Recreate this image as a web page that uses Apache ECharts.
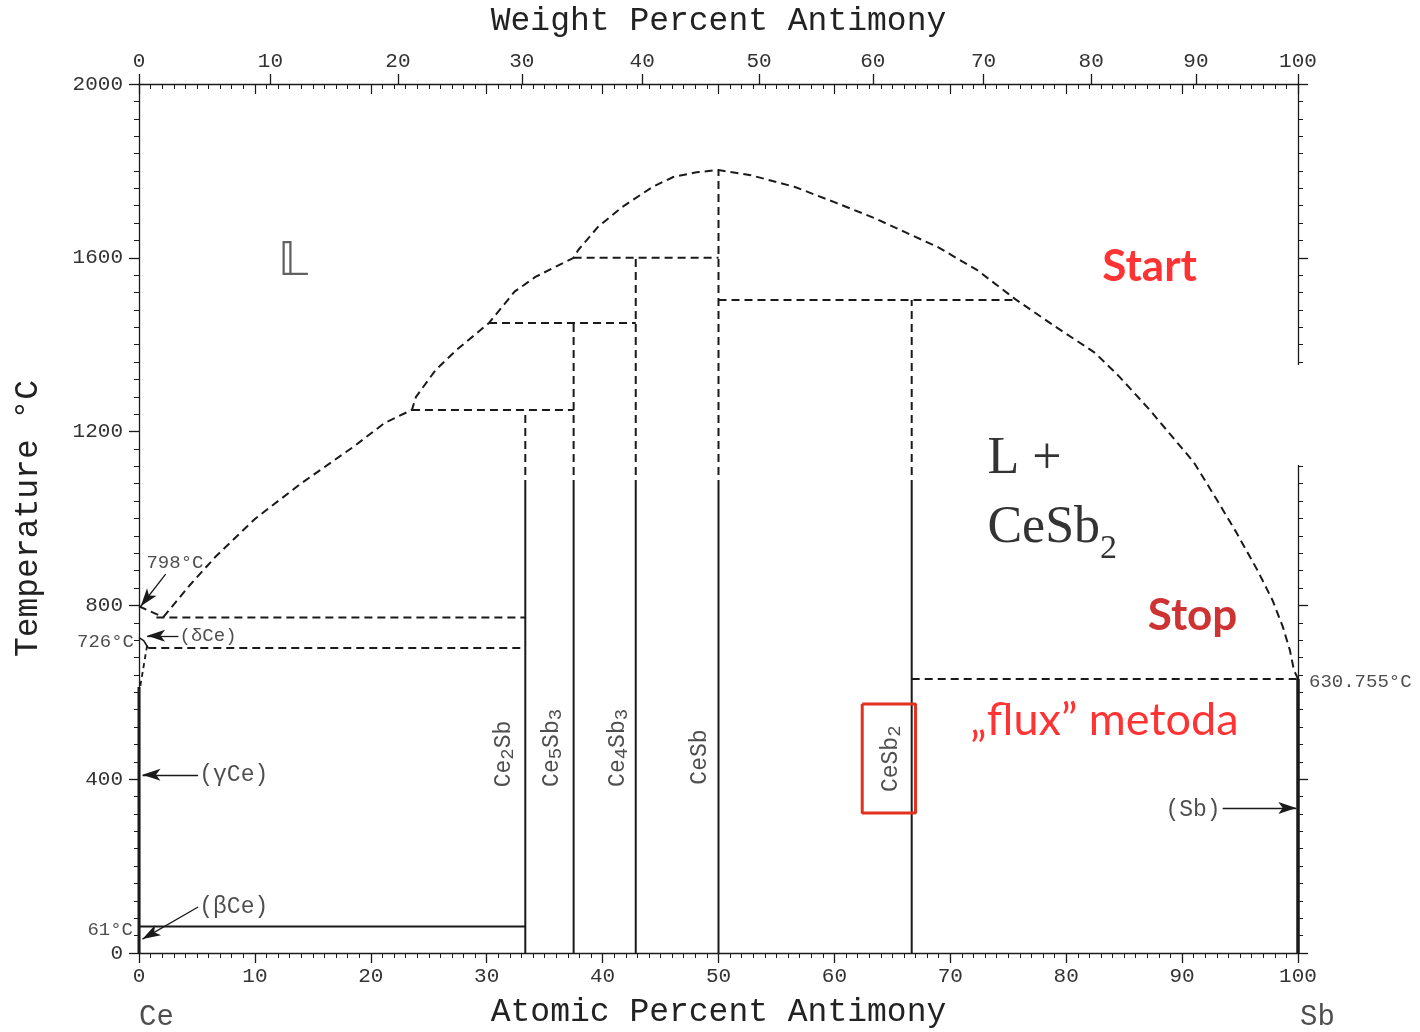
<!DOCTYPE html>
<html>
<head>
<meta charset="utf-8">
<script src="https://cdn.jsdelivr.net/npm/echarts@6/dist/echarts.min.js"></script>
<style>
  html, body { margin: 0; padding: 0; background: #fff; }
  #chart { width: 1420px; height: 1032px; }
</style>
</head>
<body>
<div id="chart"></div>
<script>
// Ce–Sb binary phase diagram (temperature vs. composition)

// ---- axis data ----
const weightTickLabels = [0, 10, 20, 30, 40, 50, 60, 70, 80, 90, 100];
const temperatureTicks = [0, 400, 800, 1200, 1600, 2000];
const MASS_CE = 140.116;
const MASS_SB = 121.76;

// ---- phase boundaries: [atomic % Sb, °C] ----
const liquidus = [
  [2.1, 773], [4.4, 847], [6.6, 912], [10, 999], [13.9, 1079], [18.5, 1165],
  [21.2, 1220], [23.55, 1250], [23.9, 1280], [25.6, 1342], [27.4, 1388],
  [30.2, 1450], [32.4, 1522], [34.2, 1556], [37.5, 1600], [37.9, 1618],
  [39.6, 1671], [41.7, 1717], [44.3, 1763], [46.1, 1786], [48.1, 1797],
  [50, 1802], [52.8, 1790], [56.6, 1763], [60, 1728], [63.4, 1692],
  [66.1, 1659], [68.9, 1625], [72.3, 1572], [75.7, 1503], [79.1, 1441],
  [82.5, 1381], [84.6, 1326], [87.2, 1250], [89.6, 1174], [91, 1130],
  [93, 1043], [94.7, 967], [96.5, 881], [97.8, 812], [98.7, 750],
  [99.3, 697], [99.65, 651], [100, 630.755]
];
const ceLiquidusStart = [[0, 798], [1.0, 786], [2.1, 773]];
const deltaGammaHook = [[0, 726], [0.4, 719], [0.8, 702]];
const gammaSolvus = [[0.7, 708], [0.4, 660], [0.1, 612]];

const isothermSegments = [
  [[1.5, 772], [33.33, 772]],
  [[0.8, 702], [33.33, 702]],
  [[23.55, 1250], [37.5, 1250]],
  [[30.2, 1450], [42.86, 1450]],
  [[37.5, 1600], [50, 1600]],
  [[50, 1503], [75.7, 1503]],
  [[66.67, 630.755], [100, 630.755]]
];
const betaCeLine = [[0, 61], [33.33, 61]];
const pureCe = [[0, 0], [0, 612]];
const pureSb = [[100, 0], [100, 630.755]];

// ---- intermediate compounds ----
const compoundNames = ['Ce2Sb', 'Ce5Sb3', 'Ce4Sb3', 'CeSb', 'CeSb2'];
const compoundAtomic = [33.33, 37.5, 42.86, 50, 66.67];
const compoundTopTemp = [1250, 1450, 1600, 1802, 1503];
const solidUpTo = 1070;

// frame drawn around the CeSb2 label
const highlightBox = [[62.4, 573], [67.0, 573], [67.0, 322], [62.4, 322], [62.4, 573]];

// ---- helpers ----
function weightToAtomic(w) {
  const nSb = w / MASS_SB, nCe = (100 - w) / MASS_CE;
  return 100 * nSb / (nSb + nCe);
}
// keep the last tick just inside the extent so its label is not dropped
const weightTickPositions = weightTickLabels.map(function (w) {
  return Math.min(weightToAtomic(w), 99.999);
});

const INK = '#1a1a1a';
const MONO = 'Liberation Mono';

function segment(data, style, z) {
  return {
    type: 'line', data: data, symbol: 'none', silent: true, animation: false,
    clip: false, z: z || 3,
    lineStyle: Object.assign({ color: INK, width: 2, type: 'solid' }, style || {})
  };
}
const dashStyle = { type: [8, 5], width: 2 };

function subRich(main, sub, drop, color, family) {
  return {
    a: { fontSize: main, fontFamily: family, color: color, lineHeight: main + 2, verticalAlign: 'top' },
    b: { fontSize: sub, fontFamily: family, color: color, lineHeight: sub, verticalAlign: 'top', padding: [drop, 0, 0, 0] }
  };
}
function formulaText(name) {
  // Ce5Sb3 -> {a|Ce}{b|5}{a|Sb}{b|3}
  return name.replace(/([A-Za-z]+)|(\d+)/g, function (m, letters, digits) {
    return letters ? '{a|' + letters + '}' : '{b|' + digits + '}';
  });
}

const series = [];

// liquidus and the dashed boundaries
series.push(segment(liquidus, dashStyle));
series.push(segment(ceLiquidusStart, dashStyle));
series.push(segment(deltaGammaHook, { width: 1.6 }));
series.push(segment(gammaSolvus, { type: [5, 4], width: 1.8 }));
isothermSegments.forEach(function (s) { series.push(segment(s, dashStyle)); });

// compounds: solid line-compound below, dashed continuation above
compoundAtomic.forEach(function (x, i) {
  series.push(segment([[x, 0], [x, solidUpTo]], { width: 2 }));
  series.push(segment([[x, solidUpTo], [x, compoundTopTemp[i]]], dashStyle));
});
series.push(segment(betaCeLine, { width: 2.2 }));
series.push(segment(pureCe, { width: 3 }));
series.push(segment(pureSb, { width: 3.5 }));
series.push(segment(highlightBox, { color: '#e2321f', width: 3 }, 6));

// arrows
function arrow(from, to) {
  return [{ coord: from, symbol: 'none' }, { coord: to, symbol: 'arrow', symbolSize: [9, 18] }];
}
series.push({
  type: 'line', data: [], symbol: 'none', silent: true, animation: false,
  markLine: {
    silent: true, animation: false, symbol: ['none', 'arrow'],
    label: { show: false },
    lineStyle: { color: INK, width: 1.3, type: 'solid' },
    emphasis: { disabled: true },
    data: [
      arrow([2.3, 872], [0.15, 798]),
      arrow([3.4, 730], [0.7, 730]),
      arrow([5.1, 410], [0.3, 410]),
      arrow([5.1, 106], [0.3, 32]),
      arrow([93.5, 334], [99.85, 334])
    ]
  }
});

// text annotations
function note(x, y, text, label) {
  return { value: [x, y], label: Object.assign({ show: true, formatter: text, color: '#222', fontFamily: MONO }, label) };
}
const notes = [
  note(3.1, 898, '798°C', { position: 'inside', fontSize: 19 }),
  note(3.5, 730, '(δCe)', { position: 'right', distance: 0, fontSize: 19 }),
  note(0, 716, '726°C', { position: 'left', distance: 5, fontSize: 19 }),
  note(5.2, 410, '(γCe)', { position: 'right', distance: 0, fontSize: 23 }),
  note(5.2, 106, '(βCe)', { position: 'right', distance: 0, fontSize: 23 }),
  note(0, 53, '61°C', { position: 'left', distance: 6, fontSize: 19 }),
  note(93.5, 329, '(Sb)', { position: 'left', distance: 2, fontSize: 23 }),
  note(100, 624, '630.755°C', { position: 'right', distance: 11, fontSize: 19 }),
  note(13.3, 1588, '𝕃', { position: 'inside', fontSize: 46, fontFamily: 'DejaVu Sans', color: '#3a3a3a' }),
  note(73.2, 1135, 'L +', { position: 'right', distance: 0, fontSize: 52, fontFamily: 'Liberation Serif', color: '#000' }),
  note(73.2, 975, '{a|CeSb}{b|2}', { position: 'right', distance: 0, rich: subRich(52, 34, 30, '#000', 'Liberation Serif') }),
  note(87.2, 1579, 'Start', { position: 'inside', fontSize: 44, fontWeight: 'bold', fontFamily: 'Lato', color: '#ff0000' }),
  note(90.9, 776, 'Stop', { position: 'inside', fontSize: 44, fontWeight: 'bold', fontFamily: 'Lato', color: '#c00000' }),
  note(83.3, 536, '„flux” metoda', { position: 'inside', fontSize: 45, fontFamily: 'Lato', color: '#ff0000' }),
  note(0, 0, 'Ce', { position: [0, 64], align: 'left', verticalAlign: 'middle', fontSize: 29 }),
  note(100, 0, 'Sb', { position: [2, 64], align: 'left', verticalAlign: 'middle', fontSize: 29 })
];
const compoundLabelX = [31.6, 35.7, 41.4, 48.5, 65.0];
const compoundLabelT = [458, 472, 472, 451, 447];
compoundNames.forEach(function (name, i) {
  notes.push(note(compoundLabelX[i], compoundLabelT[i], formulaText(name), {
    position: 'inside', rotate: 90, rich: subRich(23, 19, 6, '#222', MONO)
  }));
});
series.push({
  type: 'scatter', data: notes, symbolSize: 0, silent: true, animation: false, z: 8, clip: false
});

const tickLabelStyle = { color: '#333', fontFamily: MONO, fontSize: 21 };
const axisLine = { show: true, onZero: false, lineStyle: { color: INK, width: 1.3 } };
const nameStyle = { color: '#222', fontFamily: MONO, fontSize: 33 };
const plain = function (v) { return String(v); };

const option = {
  backgroundColor: '#fff',
  animation: false,
  grid: { left: 139, right: 122, top: 84, bottom: 79, containLabel: false, outerBoundsMode: 'none' },
  xAxis: [
    {
      type: 'value', position: 'bottom', min: 0, max: 100, interval: 10,
      name: 'Atomic Percent Antimony', nameLocation: 'middle', nameGap: 43, nameTextStyle: nameStyle,
      axisLine: axisLine,
      axisTick: { show: true, length: 10, lineStyle: { color: INK, width: 1.3 } },
      minorTick: { show: true, splitNumber: 10, length: 5, lineStyle: { color: INK, width: 1 } },
      axisLabel: Object.assign({ margin: 13, formatter: plain }, tickLabelStyle),
      splitLine: { show: false }
    },
    {
      type: 'value', position: 'top', min: 0, max: 100,
      name: 'Weight Percent Antimony', nameLocation: 'middle', nameGap: 46, nameTextStyle: nameStyle,
      axisLine: axisLine,
      axisTick: { show: true, length: 10, customValues: weightTickPositions, lineStyle: { color: INK, width: 1.3 } },
      axisLabel: Object.assign({
        margin: 12, customValues: weightTickPositions, showMinLabel: true, showMaxLabel: true, hideOverlap: false,
        formatter: function (v) {
          let best = 0;
          weightTickPositions.forEach(function (p, i) {
            if (Math.abs(p - v) < Math.abs(weightTickPositions[best] - v)) best = i;
          });
          return String(weightTickLabels[best]);
        }
      }, tickLabelStyle),
      splitLine: { show: false }
    },
    {
      type: 'value', position: 'top', min: 0, max: 100, interval: 10,
      axisLine: { show: false, onZero: false },
      axisTick: { show: true, inside: true, length: 10, lineStyle: { color: INK, width: 1.2 } },
      minorTick: { show: true, splitNumber: 10, length: 5, lineStyle: { color: INK, width: 1 } },
      axisLabel: { show: false },
      splitLine: { show: false }
    }
  ],
  yAxis: [
    {
      type: 'value', position: 'left', min: 0, max: 2000, interval: 400,
      name: 'Temperature °C', nameLocation: 'middle', nameGap: 94, nameRotate: 90, nameTextStyle: nameStyle,
      axisLine: axisLine,
      axisTick: { show: true, length: 10, lineStyle: { color: INK, width: 1.3 } },
      minorTick: { show: true, splitNumber: 10, length: 5, lineStyle: { color: INK, width: 1 } },
      axisLabel: Object.assign({ margin: 16, customValues: temperatureTicks, formatter: plain }, tickLabelStyle),
      splitLine: { show: false }
    },
    {
      type: 'value', position: 'right', min: 0, max: 2000, interval: 400,
      axisLine: axisLine,
      axisTick: { show: true, length: 10, lineStyle: { color: INK, width: 1.3 } },
      minorTick: { show: true, splitNumber: 10, length: 5, lineStyle: { color: INK, width: 1 } },
      axisLabel: { show: false },
      splitLine: { show: false }
    }
  ],
  series: series
};

const chart = echarts.init(document.getElementById('chart'), null, { renderer: 'canvas' });
chart.setOption(option);

// the right-hand frame is interrupted between these temperatures
const frameGap = [1123, 1353];
const gx = chart.convertToPixel({ xAxisIndex: 0 }, 100);
const gy1 = chart.convertToPixel({ yAxisIndex: 0 }, frameGap[1]);
const gy2 = chart.convertToPixel({ yAxisIndex: 0 }, frameGap[0]);
chart.setOption({
  graphic: [{
    type: 'rect', z: 100, silent: true,
    shape: { x: gx - 3, y: gy1, width: 18, height: gy2 - gy1 },
    style: { fill: '#fff' }
  }]
});
</script>
</body>
</html>
